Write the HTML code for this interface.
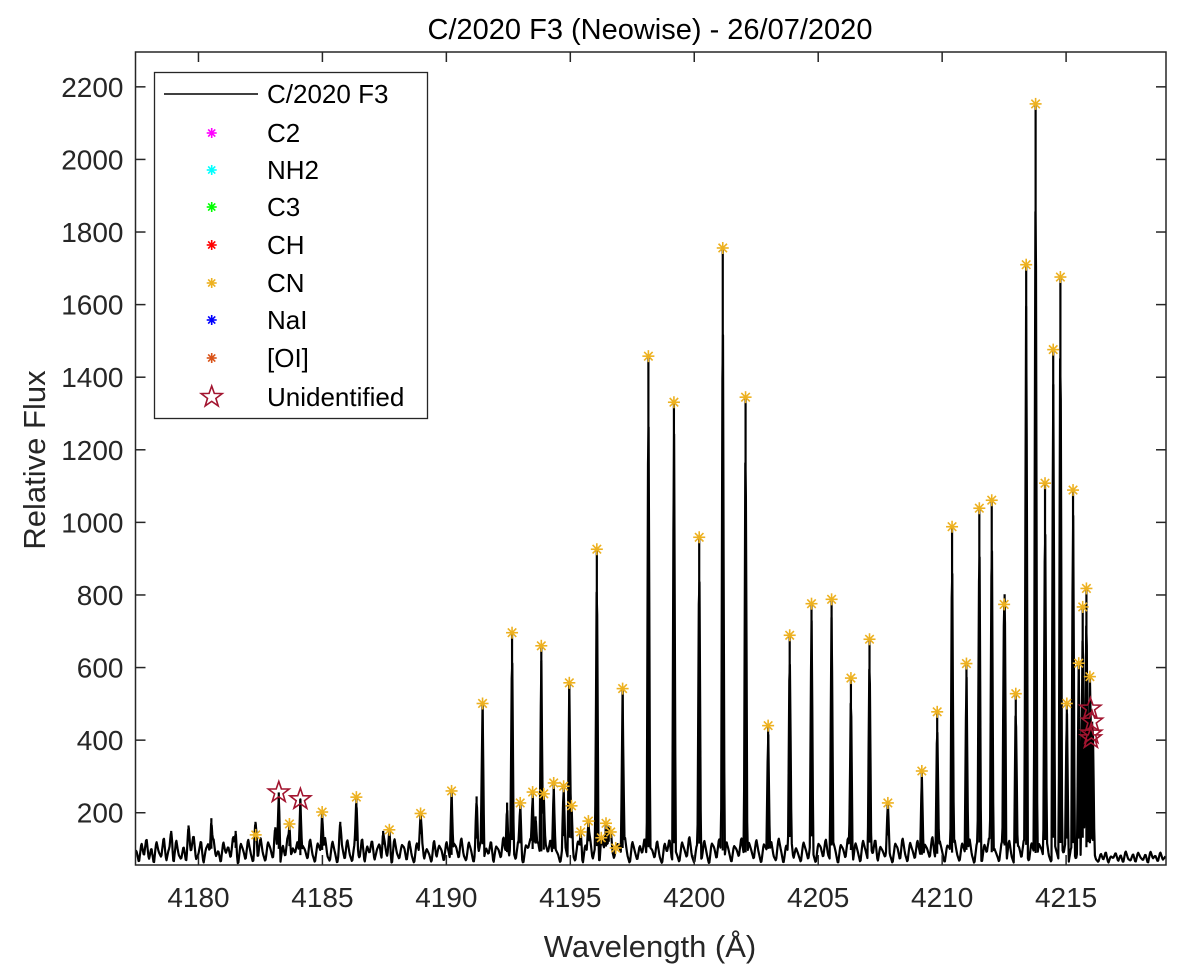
<!DOCTYPE html>
<html><head><meta charset="utf-8"><style>
html,body{margin:0;padding:0;background:#fff;}
svg{display:block;font-family:"Liberation Sans",Arial,sans-serif;}
</style></head><body>
<svg id="chart" width="1200" height="970" viewBox="0 0 1200 970" xmlns="http://www.w3.org/2000/svg">
<rect x="0" y="0" width="1200" height="970" fill="#fff"/>
<g id="plot"></g>
<g id="axes"></g>
<g id="legend"></g>
<text x="650" y="39" text-anchor="middle" font-size="29" fill="#000">C/2020 F3 (Neowise) - 26/07/2020</text>
<text x="650" y="957" text-anchor="middle" font-size="31" fill="#262626">Wavelength (Å)</text>
<text transform="translate(45,460) rotate(-90)" text-anchor="middle" font-size="31" fill="#262626">Relative Flux</text>
</svg>
<script>
// ---- data ----
const cnWave = [4182.31,4183.67,4184.99,4186.37,4187.70,4188.96,4190.21,4191.46,4192.65,4192.98,4193.48,4193.83,4193.93,4194.33,4194.73,4194.96,4195.05,4195.42,4195.73,4196.07,4196.25,4196.44,4196.63,4196.83,4197.11,4198.15,4199.18,4200.20,4201.15,4202.07,4202.98,4203.85,4204.73,4205.54,4206.32,4207.07,4207.81,4209.18,4209.80,4210.40,4210.98,4211.50,4212.00,4212.50,4212.97,4213.39,4213.77,4214.15,4214.48,4214.77,4215.03,4215.28,4215.51,4215.67,4215.82,4215.96];
const cnFlux = [139,169,202,243,153,198,260,501,696,227,257,660,252,282,273,558,219,147,177,926,131,171,147,103,542,1458,1331,959,1756,1345,440,689,776,788,571,678,227,315,478,988,611,1039,1061,774,528,1710,2153,1108,1476,1676,501,1089,612,767,818,575];
const unidWave = [4183.24,4184.11,4215.98,4216.05,4216.02,4216.00];
const unidFlux = [256,237,487,451,418,405];
const extraWave = [4178.9,4179.6,4180.52,4181.5,4182.3,4183.1,4185.72,4187.45,4191.22,4192.45,4193.6,4196.55,4212.52,4216.08];
const extraFlux = [150,165,185,150,175,160,175,150,245,228,190,165,802,400];
const baseStart = 4177.5, baseStep = 0.1;
const baseline = [
 95,62,118,80,131,70,104,58,122,91,77,135,66,99,113,60,127,84,72,108,
 64,119,93,140,71,86,125,59,101,115,68,132,79,96,61,121,88,107,74,138,
 83,57,116,98,69,129,90,63,111,76,134,87,65,120,102,73,126,94,60,112,
 78,137,67,103,89,124,58,110,97,71,130,85,62,117,100,75,136,81,66,123,
 92,59,114,106,70,128,86,64,119,95,74,133,61,109,88,126,68,99,115,63,
 121,80,97,57,131,90,72,112,104,66,125,83,60,118,94,139,71,101,87,62,
 127,76,110,98,65,122,89,58,116,105,73,134,82,67,120,96,61,113,91,129,
 69,103,85,124,60,108,99,74,137,79,64,117,93,70,126,88,59,111,102,132,
 67,95,121,78,63,114,90,128,72,100,86,61,119,107,75,135,84,66,123,97,
 58,112,89,130,71,104,81,62,118,96,73,127,92,65,115,101,77,136,83,60,
 122,94,69,110,87,133,64,106,98,74,125,80,59,117,91,129,68,103,85,63,
 120,99,76,138,82,61,113,95,70,126,88,57,116,105,72,131,86,66,121,93,
 62,109,100,78,134,84,65,119,97,71,128,90,60,114,102,75,123,81,67,132,
 96,59,111,89,137,73,104,85,63,120,98,70,127,87,61,115,106,76,130,83,
 68,122,94,58,112,101,74,135,80,66,118,92,62,125,99,71,109,86,129,64,
 107,95,77,121,83,60,116,103,69,133,88,63,119,97,72,126,90,58,113,100,
 75,138,81,67,124,93,61,110,104,70,128,86,65,117,96,73,131,84,59,120,
 98,62,114,89,136,71,102,85,64,122,95,68,127,80,60,111,107,74,130,87,
 66,118,92,59,115,101,76,134,83,63,123,97,70,108,88,129,61,105,94,72,
 112,79,125,90,64,117,99
, 72,64,88,70,93,61,80,75,90,66,84,62,95,73,68,87,63,91,77,69,
 86,60,94,74,82,65,92,70,79,88,67,90,63];
const xTicks = [4180,4185,4190,4195,4200,4205,4210,4215];
const yTicks = [200,400,600,800,1000,1200,1400,1600,1800,2000,2200];
const legendLabels = ["C/2020 F3","C2","NH2","C3","CH","CN","NaI","[OI]","Unidentified"];
const legendColors = ["#000","#FF00FF","#00FFFF","#00FF00","#FF0000","#EDB120","#0000FF","#D95319","#A2142F"];

// ---- axes ----
const L=135.5,R=1166,T=52,B=865;
const XMIN=4177.46, XMAX=4219.03, YMIN=56, YMAX=2296;
const sx=v=>L+(v-XMIN)/(XMAX-XMIN)*(R-L);
const sy=v=>B-(v-YMIN)/(YMAX-YMIN)*(B-T);
const NS="http://www.w3.org/2000/svg";
function mk(tag,attrs,parent){const e=document.createElementNS(NS,tag);for(const k in attrs)e.setAttribute(k,attrs[k]);parent.appendChild(e);return e;}
const plot=document.getElementById('plot'), axes=document.getElementById('axes'), leg=document.getElementById('legend');

const peaks=[];
cnWave.forEach((w,i)=>peaks.push([w,cnFlux[i]]));
extraWave.forEach((w,i)=>peaks.push([w,extraFlux[i]]));
unidWave.forEach((w,i)=>peaks.push([w,unidFlux[i]]));
function baseAt(w){const f=(w-baseStart)/baseStep;const i=Math.max(0,Math.min(baseline.length-2,Math.floor(f)));const t=Math.max(0,Math.min(1,f-i));return baseline[i]*(1-t)+baseline[i+1]*t;}
const pts=[];
for(let w=XMIN; w<=XMAX; w+=0.025){
  let v=baseAt(w);
  for(const [pw,pf] of peaks){const d=Math.abs(w-pw);if(d<0.07){const c=pf-(pf-v)*(d/0.07);if(c>v)v=c;}}
  pts.push(sx(w).toFixed(1)+","+sy(Math.max(YMIN,v)).toFixed(1));
}
const line=mk('polyline',{points:pts.join(" "),fill:"none",stroke:"#000","stroke-width":2.2,"stroke-linejoin":"round"},plot);


peaks.forEach(([pw,pf])=>{
  const s=mk('line',{x1:sx(pw),x2:sx(pw),y1:sy(pf),y2:sy(Math.min(pf,baseAt(pw)+20)),stroke:"#000","stroke-width":2.2},plot);
  
  
});

function asterisk(x,y,c,parent,r){r=r||6;const g=mk('g',{stroke:c,"stroke-width":1.6},parent);
  for(let a=0;a<4;a++){const an=a*Math.PI/4;mk('line',{x1:x-r*Math.cos(an),y1:y-r*Math.sin(an),x2:x+r*Math.cos(an),y2:y+r*Math.sin(an)},g);}return g;}
function star(x,y,c,parent,r){r=r||11;let p=[];for(let i=0;i<10;i++){const rr=i%2?r*0.4:r;const an=-Math.PI/2+i*Math.PI/5;p.push((x+rr*Math.cos(an)).toFixed(1)+","+(y+rr*Math.sin(an)).toFixed(1));}
  return mk('polygon',{points:p.join(" "),fill:"none",stroke:c,"stroke-width":1.6},parent);}

cnWave.forEach((w,i)=>{const g=asterisk(sx(w),sy(cnFlux[i]),"#EDB120",plot);
  
  });
unidWave.forEach((w,i)=>{const g=star(sx(w),sy(unidFlux[i]),"#A2142F",plot);
  
  });

const fr=mk('rect',{x:L,y:T,width:R-L,height:B-T,fill:"none",stroke:"#262626","stroke-width":1.5},axes);


xTicks.forEach(t=>{const x=sx(t);
  mk('line',{x1:x,x2:x,y1:B,y2:B-10,stroke:"#262626","stroke-width":1.5},axes);
  mk('line',{x1:x,x2:x,y1:T,y2:T+10,stroke:"#262626","stroke-width":1.5},axes);
  const tx=mk('text',{x:x,y:B+42,"text-anchor":"middle","font-size":28,fill:"#262626"},axes);tx.textContent=t;
  
  });
yTicks.forEach(t=>{const y=sy(t);
  mk('line',{x1:L,x2:L+10,y1:y,y2:y,stroke:"#262626","stroke-width":1.5},axes);
  mk('line',{x1:R,x2:R-10,y1:y,y2:y,stroke:"#262626","stroke-width":1.5},axes);
  const tx=mk('text',{x:L-12,y:y+10,"text-anchor":"end","font-size":28,fill:"#262626"},axes);tx.textContent=t;
  
  });

const lb=mk('rect',{x:154.5,y:72.5,width:273,height:346,fill:"#fff",stroke:"#262626","stroke-width":1.3},leg);


const rowsY=[94,133,170,207,245,283,320,358,397];
legendLabels.forEach((lab,i)=>{const y=rowsY[i];
  const g=mk('g',{},leg);
  
  
  if(i===0) mk('line',{x1:164,x2:258,y1:y,y2:y,stroke:"#000","stroke-width":1.6},g);
  else if(i===8) star(211.7,y,legendColors[i],g,11);
  else asterisk(211.7,y,legendColors[i],g,5);
  const t=mk('text',{x:267,y:y+9,"font-size":26,fill:"#000"},g);t.textContent=lab;});
</script>
</body></html>
